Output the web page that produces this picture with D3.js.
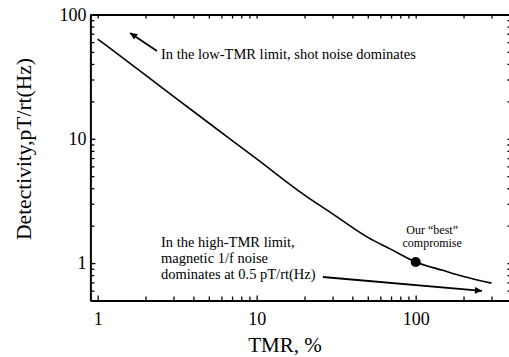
<!DOCTYPE html>
<meta charset="utf-8">
<style>
body { margin: 0; background: #fff; }
svg, svg text { font-family: 'Liberation Serif', 'Times New Roman', serif; }
.axis path { stroke: #000; stroke-width: 2px; }
.axis line { stroke: #000; stroke-width: 1.3px; }
.axis text { font-size: 18px; fill: #000; font-family: 'Liberation Serif', serif; }
.curve { fill: none; stroke: #000; stroke-width: 1.6px; }
.note { font-size: 14.5px; fill: #000; }
</style>
<body>
<script src="https://cdnjs.cloudflare.com/ajax/libs/d3/7.8.5/d3.min.js"></script>
<script>
// values
var tmr = [1, 2, 5, 10, 20, 30, 50, 70, 100, 150, 200, 300];
var detectivity = [63.5, 32.5, 13.4, 6.88, 3.52, 2.49, 1.61, 1.29, 1.02, 0.87, 0.78, 0.69];
var bestPoint = [100, 1.02];
var xMajor = [1, 10, 100];
var yMajor = [1, 10, 100];

var width = 509, height = 357;

var svg = d3.select("body").append("svg")
    .attr("width", width)
    .attr("height", height);

var x = d3.scaleLog().domain([0.9, 400]).range([90.4, 511.4]),
    y = d3.scaleLog().domain([0.5, 100]).range([300.5, 14.5]);

// 2..9 times each decade, inside the domain
function minors(domain) {
  var out = [];
  for (var d = 0.1; d <= 1000; d *= 10) {
    for (var k = 2; k <= 9; k++) {
      var v = +(d * k).toPrecision(3);
      if (v >= domain[0] && v <= domain[1]) out.push(v);
    }
  }
  return out;
}
var xMinor = minors(x.domain()), yMinor = minors(y.domain());

var x0 = x.range()[0], x1 = x.range()[1], y0 = y.range()[0], y1 = y.range()[1];

// bottom
svg.append("g").attr("class", "axis")
    .attr("transform", "translate(0," + y0 + ")")
    .call(d3.axisBottom(x).tickValues(xMajor).tickFormat(d3.format("d"))
      .tickSizeInner(-5).tickSizeOuter(0).tickPadding(12));
svg.append("g").attr("class", "axis minor")
    .attr("transform", "translate(0," + y0 + ")")
    .call(d3.axisBottom(x).tickValues(xMinor).tickFormat("").tickSizeInner(-4).tickSizeOuter(0));
// top
svg.append("g").attr("class", "axis")
    .attr("transform", "translate(0," + y1 + ")")
    .call(d3.axisTop(x).tickValues(xMajor.concat(xMinor)).tickFormat("").tickSizeInner(-4).tickSizeOuter(0));
// left
svg.append("g").attr("class", "axis")
    .attr("transform", "translate(" + x0 + ",0)")
    .call(d3.axisLeft(y).tickValues(yMajor).tickFormat(d3.format("d"))
      .tickSizeInner(-5).tickSizeOuter(0).tickPadding(4));
svg.append("g").attr("class", "axis minor")
    .attr("transform", "translate(" + x0 + ",0)")
    .call(d3.axisLeft(y).tickValues(yMinor).tickFormat("").tickSizeInner(-4).tickSizeOuter(0));
// right
svg.append("g").attr("class", "axis")
    .attr("transform", "translate(" + x1 + ",0)")
    .call(d3.axisRight(y).tickValues(yMajor.concat(yMinor)).tickFormat("").tickSizeInner(-4).tickSizeOuter(0));

svg.selectAll(".minor path").remove();

// axis titles
svg.append("text")
    .attr("x", 285).attr("y", 352)
    .attr("text-anchor", "middle")
    .style("font-size", "21px")
    .text("TMR, %");

svg.append("text")
    .attr("transform", "translate(31,149) rotate(-90)")
    .attr("text-anchor", "middle")
    .style("font-size", "21.5px")
    .text("Detectivity,pT/rt(Hz)");

// curve
var pts = tmr.map(function(t, i) { return [t, detectivity[i]]; });
var line = d3.line()
    .curve(d3.curveMonotoneX)
    .x(function(d) { return x(d[0]); })
    .y(function(d) { return y(d[1]); });

svg.append("path").attr("class", "curve").attr("d", line(pts));

svg.append("circle")
    .attr("cx", x(bestPoint[0])).attr("cy", y(bestPoint[1]))
    .attr("r", 5).attr("fill", "#000");

// arrows
svg.append("defs").append("marker")
    .attr("id", "head")
    .attr("viewBox", "0 0 10 10")
    .attr("refX", 10).attr("refY", 5)
    .attr("markerWidth", 9).attr("markerHeight", 7)
    .attr("markerUnits", "userSpaceOnUse")
    .attr("orient", "auto")
  .append("path").attr("d", "M0,0L10,5L0,10z").attr("fill", "#000");

function arrow(from, to) {
  svg.append("line")
      .attr("x1", x(from[0])).attr("y1", y(from[1]))
      .attr("x2", x(to[0])).attr("y2", y(to[1]))
      .attr("stroke", "#000").attr("stroke-width", 1.8)
      .attr("marker-end", "url(#head)");
}
arrow([2.36, 50.8], [1.6, 71]);
arrow([26.1, 0.773], [261, 0.597]);

// notes
svg.append("text").attr("class", "note")
    .attr("x", x(2.5)).attr("y", y(43.5))
    .text("In the low-TMR limit, shot noise dominates");

var low = svg.append("text").attr("class", "note")
    .attr("x", x(2.5)).attr("y", y(1.335));
["In the high-TMR limit,", "magnetic 1/f noise", "dominates at 0.5 pT/rt(Hz)"].forEach(function(s, i) {
  low.append("tspan").attr("x", x(2.5)).attr("dy", i ? 16 : 0).text(s);
});

var best = svg.append("text")
    .attr("text-anchor", "middle")
    .style("font-size", "12px")
    .attr("x", x(127)).attr("y", y(1.71));
["Our \u201cbest\u201d", "compromise"].forEach(function(s, i) {
  best.append("tspan").attr("x", x(127)).attr("dy", i ? 13 : 0).text(s);
});
</script>
</body>
